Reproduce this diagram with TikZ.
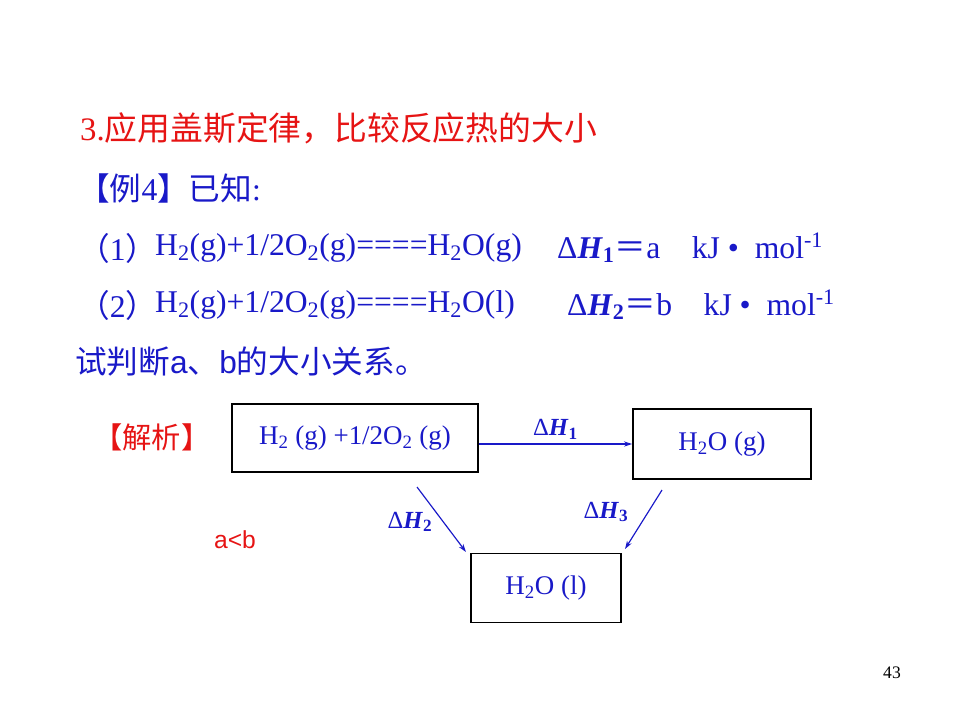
\documentclass[tikz,border=0pt]{standalone}
\usepackage{fontspec}
\setmainfont{Liberation Serif}
\newfontfamily\cjk{Noto Sans CJK SC}
\newfontfamily\arial{Liberation Sans}
\usetikzlibrary{arrows.meta}
\definecolor{txtblue}{RGB}{25,25,200}
\definecolor{txtred}{RGB}{230,20,20}
\newcommand{\dH}[1]{Δ\textbf{\textit{H}}\textsubscript{\textbf{#1}}}

\begin{document}
\begin{tikzpicture}[x=0.03cm,y=-0.03cm,
  txt/.style={inner sep=0pt,anchor=west,txtblue,font=\fontsize{27}{30}\selectfont},
  ttl/.style={inner sep=0pt,anchor=west,txtred,font=\fontsize{28}{32}\selectfont},
  box/.style={draw=black,line width=1.5pt,text=txtblue,font=\fontsize{23}{26}\selectfont},
  lbl/.style={txtblue,inner sep=1pt,font=\fontsize{21}{24}\selectfont},
  arr/.style={-{Stealth[length=7pt,width=4.5pt]},txtblue,line width=1pt},
]
\useasboundingbox (0,0) rectangle (960,720);

%% problem text
\node[ttl] (title) at (80,128) {3.{\cjk 应用盖斯定律，比较反应热的大小}};
\node[txt] (ex) at (78,188) {{\cjk 【例}4{\cjk 】已知}:};

\node[txt] (n1) at (78,248) {{\cjk （}1{\cjk ）}};
\node[txt] (eq1) at (155,248) {H\textsubscript{2}(g)+1/2O\textsubscript{2}(g)====H\textsubscript{2}O(g)};
\node[txt] (dh1) at (557,248) {\dH{1}{\cjk ＝}a\ \ \ \ kJ\ •\ \ mol\textsuperscript{-1}};

\node[txt] (n2) at (78,305) {{\cjk （}2{\cjk ）}};
\node[txt] (eq2) at (155,305) {H\textsubscript{2}(g)+1/2O\textsubscript{2}(g)====H\textsubscript{2}O(l)};
\node[txt] (dh2) at (567,305) {\dH{2}{\cjk ＝}b\ \ \ \ kJ\ •\ \ mol\textsuperscript{-1}};

\node[txt] (ask) at (75,362) {{\cjk 试判断}{\arial a}{\cjk 、}{\arial b}{\cjk 的大小关系。}};

%% analysis
\node[ttl,font=\fontsize{25}{28}\selectfont] (ana) at (93,437) {\cjk 【解析】};
\node[txtred,font=\arial\fontsize{21}{24}\selectfont] (res) at (235,540) {a<b};

\node[box,minimum width=7.38cm,minimum height=2.04cm] (b1) at (355,438)
  {H\textsubscript{2} (g) +1/2O\textsubscript{2} (g)};
\node[box,minimum width=5.34cm,minimum height=2.1cm] (b2) at (722,444)
  {H\textsubscript{2}O (g)};
\node[box,minimum width=4.5cm,minimum height=2.07cm] (b3) at (546,588)
  {H\textsubscript{2}O (l)};

\coordinate (s2) at (417,487);
\coordinate (e2) at (466,552);
\coordinate (s3) at (662,490);
\coordinate (e3) at (625,549);

\draw[arr,line width=1.5pt] (b1.east |- b2.west) -- (b2.west)
  node[lbl,midway,above=2pt]{\dH{1}};
\draw[arr] (s2) -- (e2);
\node[lbl] (l2) at (410,522) {\dH{2}};
\draw[arr] (s3) -- (e3);
\node[lbl] (l3) at (606,512) {\dH{3}};

\node[font=\fontsize{15}{18}\selectfont] (pg) at (892,673) {43};
\end{tikzpicture}
\end{document}
